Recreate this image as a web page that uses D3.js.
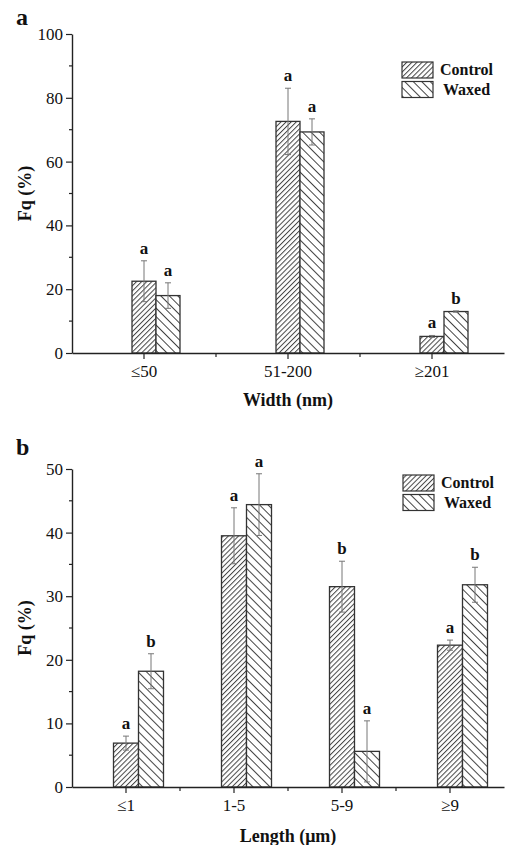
<!DOCTYPE html>
<html>
<head>
<meta charset="utf-8">
<script src="https://cdn.jsdelivr.net/npm/d3@7"></script>
<style>
  html, body { margin: 0; padding: 0; background: #fff; }
  svg { display: block; }
  svg text { font-family: "Liberation Serif", "Times New Roman", "DejaVu Serif", serif !important; fill: #111; }
</style>
</head>
<body>
<svg id="chart" width="505" height="845"></svg>
<script>
// ---------- Data ----------
const seriesNames = ["Control", "Waxed"];

const widthCategories = ["≤50", "51-200", "≥201"];
const widthControl = [22.5, 72.6, 5.2];
const widthControlErr = [6.4, 10.4, 0.3];
const widthWaxed = [18.0, 69.3, 13.0];
const widthWaxedErr = [4.0, 4.1, 0.2];
const widthControlLetters = ["a", "a", "a"];
const widthWaxedLetters = ["a", "a", "b"];
const widthTicks = [0, 20, 40, 60, 80, 100];

const lengthCategories = ["≤1", "1-5", "5-9", "≥9"];
const lengthControl = [6.9, 39.5, 31.5, 22.3];
const lengthControlErr = [1.1, 4.4, 4.0, 0.8];
const lengthWaxed = [18.2, 44.4, 5.6, 31.8];
const lengthWaxedErr = [2.75, 4.85, 4.8, 2.75];
const lengthControlLetters = ["a", "a", "b", "a"];
const lengthWaxedLetters = ["b", "a", "a", "b"];
const lengthTicks = [0, 10, 20, 30, 40, 50];

// ---------- Setup ----------
const svg = d3.select("#chart");
const defs = svg.append("defs");

function hatch(id, angle, spacing) {
  const p = defs.append("pattern")
    .attr("id", id)
    .attr("patternUnits", "userSpaceOnUse")
    .attr("width", spacing).attr("height", spacing)
    .attr("patternTransform", `rotate(${angle})`);
  p.append("rect").attr("width", spacing).attr("height", spacing).attr("fill", "#fff");
  p.append("line").attr("x1", 0.5).attr("y1", 0).attr("x2", 0.5).attr("y2", spacing)
    .attr("stroke", "#444").attr("stroke-width", 1);
}
hatch("hControl", 45, 3.6);
hatch("hWaxed", -45, 6);
const fills = ["url(#hControl)", "url(#hWaxed)"];

function panel(cfg) {
  const g = svg.append("g");
  const x = d3.scaleBand().domain(cfg.categories).range([72, 504]);
  const y = d3.scaleLinear().domain([0, cfg.max]).range([cfg.y0, cfg.y1]);
  const bw = cfg.barWidth;

  // minor ticks y
  const minor = d3.range(cfg.minorStep, cfg.max, cfg.minorStep * 2);
  g.append("g").selectAll("line").data(minor).join("line")
    .attr("x1", 72).attr("x2", 69)
    .attr("y1", d => y(d)).attr("y2", d => y(d))
    .attr("stroke", "#222").attr("stroke-width", 1.2);

  // y axis
  const yAxis = g.append("g").attr("transform", "translate(72,0)")
    .call(d3.axisLeft(y).tickValues(cfg.ticks).tickSize(6).tickSizeOuter(0).tickPadding(3));
  yAxis.attr("font-family", null);
  yAxis.select(".domain").attr("stroke", "#222").attr("stroke-width", 1.4);
  yAxis.selectAll(".tick line").attr("stroke", "#222").attr("stroke-width", 1.2);
  yAxis.selectAll(".tick text").attr("font-size", 17).attr("fill", "#222");

  // bars
  const seriesData = [cfg.control, cfg.waxed];
  const errData = [cfg.controlErr, cfg.waxedErr];
  const letters = [cfg.controlLetters, cfg.waxedLetters];
  seriesData.forEach((vals, si) => {
    const cx = c => x(c) + x.bandwidth() / 2 - bw / 2 + si * bw;
    g.append("g").selectAll("rect").data(cfg.categories).join("rect")
      .attr("x", c => cx(c))
      .attr("y", (c, i) => y(vals[i]))
      .attr("width", bw)
      .attr("height", (c, i) => y(0) - y(vals[i]))
      .attr("fill", fills[si])
      .attr("stroke", "#333").attr("stroke-width", 1.3);
  });
  // error bars + letters
  seriesData.forEach((vals, si) => {
    const mid = c => x(c) + x.bandwidth() / 2 + si * bw;
    const eg = g.append("g");
    cfg.categories.forEach((c, i) => {
      const m = mid(c), top = y(vals[i] + errData[si][i]), bot = y(vals[i] - errData[si][i]);
      eg.append("line").attr("x1", m).attr("x2", m).attr("y1", top).attr("y2", bot)
        .attr("stroke", "#777").attr("stroke-width", 1);
      [top, bot].forEach(yy => eg.append("line").attr("x1", m - 3).attr("x2", m + 3)
        .attr("y1", yy).attr("y2", yy).attr("stroke", "#777").attr("stroke-width", 1));
      eg.append("text").attr("x", m).attr("y", top - 7)
        .attr("text-anchor", "middle").attr("font-weight", "bold").attr("font-size", 17)
        .text(letters[si][i]);
    });
  });

  // x axis
  const xAxis = g.append("g").attr("transform", `translate(0,${cfg.y0})`)
    .call(d3.axisBottom(x).tickSize(6).tickSizeOuter(0).tickPadding(6));
  xAxis.attr("font-family", null);
  xAxis.select(".domain").attr("stroke", "#222").attr("stroke-width", 1.4);
  xAxis.selectAll(".tick line").attr("stroke", "#222").attr("stroke-width", 1.2);
  xAxis.selectAll(".tick text").attr("font-size", 17).attr("fill", "#222");
  // boundary ticks
  g.append("g").selectAll("line").data(cfg.categories.slice(1)).join("line")
    .attr("x1", c => x(c)).attr("x2", c => x(c))
    .attr("y1", cfg.y0).attr("y2", cfg.y0 + 4)
    .attr("stroke", "#222").attr("stroke-width", 1.2);

  // axis titles
  g.append("text").attr("transform", `translate(31,${(cfg.y0 + cfg.y1) / 2}) rotate(-90)`)
    .attr("text-anchor", "middle").attr("font-weight", "bold").attr("font-size", 18)
    .text("Fq (%)");
  g.append("text").attr("x", 288).attr("y", cfg.xTitleY)
    .attr("text-anchor", "middle").attr("font-weight", "bold").attr("font-size", 18)
    .text(cfg.xTitle);
  // panel label
  g.append("text").attr("x", 16).attr("y", cfg.labelY)
    .attr("font-weight", "bold").attr("font-size", 24).text(cfg.label);

  // legend
  const lg = g.append("g");
  seriesNames.forEach((n, i) => {
    lg.append("rect").attr("x", cfg.legX).attr("y", cfg.legY + i * 19.5)
      .attr("width", 31).attr("height", 16)
      .attr("fill", fills[i]).attr("stroke", "#333").attr("stroke-width", 1.2);
    lg.append("text").attr("x", cfg.legX + 38 + (i === 1 ? 3 : 0)).attr("y", cfg.legY + i * 19.5 + 13)
      .attr("font-weight", "bold").attr("font-size", 16).text(n);
  });
}

panel({
  categories: widthCategories, control: widthControl, controlErr: widthControlErr,
  waxed: widthWaxed, waxedErr: widthWaxedErr,
  controlLetters: widthControlLetters, waxedLetters: widthWaxedLetters,
  ticks: widthTicks, max: 100, minorStep: 10, y0: 353, y1: 34, barWidth: 24,
  xTitle: "Width (nm)", xTitleY: 406, label: "a", labelY: 25,
  legX: 402, legY: 62
});

panel({
  categories: lengthCategories, control: lengthControl, controlErr: lengthControlErr,
  waxed: lengthWaxed, waxedErr: lengthWaxedErr,
  controlLetters: lengthControlLetters, waxedLetters: lengthWaxedLetters,
  ticks: lengthTicks, max: 50, minorStep: 5, y0: 787, y1: 469, barWidth: 25,
  xTitle: "Length (μm)", xTitleY: 842, label: "b", labelY: 455,
  legX: 403, legY: 475
});
</script>
</body>
</html>
